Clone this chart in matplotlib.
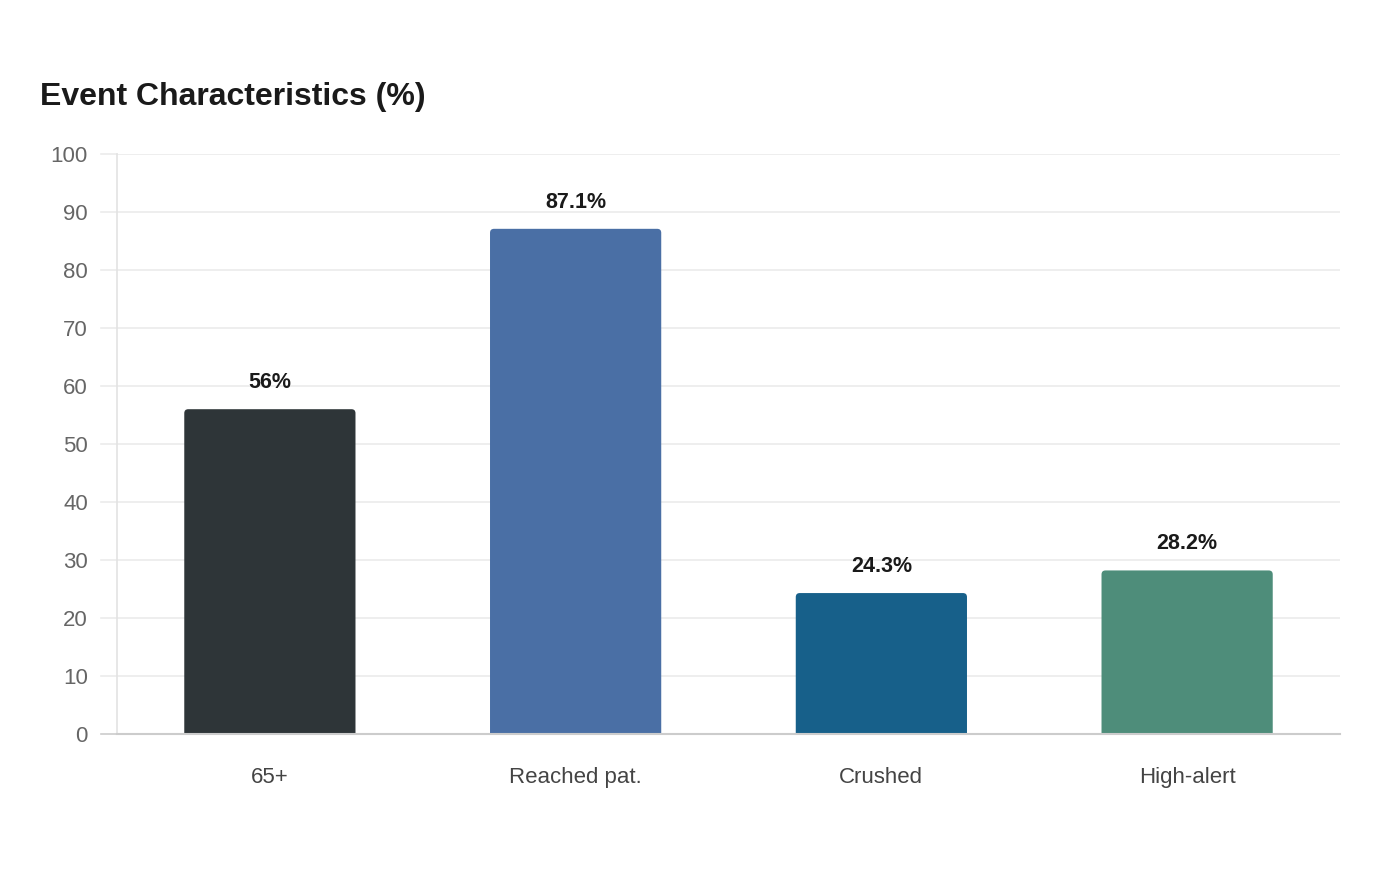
import matplotlib.pyplot as plt
from matplotlib.patches import FancyBboxPatch

plt.rcParams['font.family'] = ['Liberation Sans', 'DejaVu Sans']

categories = ['65+', 'Reached pat.', 'Crushed', 'High-alert']
values = [56, 87.1, 24.3, 28.2]
labels = ['56%', '87.1%', '24.3%', '28.2%']
colors = ['#2E3538', '#4A6FA5', '#17608A', '#4E8D7A']
yticks = [0, 10, 20, 30, 40, 50, 60, 70, 80, 90, 100]

fig = plt.figure(figsize=(14, 8.8), dpi=100)
ax = fig.add_axes([117 / 1400, 146 / 880, 1223 / 1400, 580 / 880])

width = 0.56
ax.set_xlim(-0.5, len(categories) - 0.5)
ax.set_ylim(0, 100)

# rounded tops: radius ~4px, scaled for the axes aspect
px_x = (len(categories)) / 1223
px_y = 100 / 580
r = 4 * px_x
for i, (v, c) in enumerate(zip(values, colors)):
    patch = FancyBboxPatch((i - width / 2, -2), width, v + 2,
                           boxstyle=f"round,pad=0,rounding_size={r}",
                           mutation_aspect=px_y / px_x,
                           facecolor=c, edgecolor='none', zorder=3)
    ax.add_patch(patch)
    ax.text(i, v + 2.8, labels[i], ha='center', va='bottom',
            fontsize=15.5, fontweight='bold', color='#1a1a1a')

ax.set_xticks(range(len(categories)))
ax.set_xticklabels(categories, fontsize=16, color='#444444')
ax.set_yticks(yticks)
ax.set_yticklabels([str(t) for t in yticks], fontsize=16, color='#666666')
ax.tick_params(axis='x', length=0, pad=24)
ax.tick_params(axis='y', length=0, pad=21)

ax.grid(axis='y', color='#EBEBEB', linewidth=1.2, zorder=0)
ax.set_axisbelow(True)
for s in ['top', 'right']:
    ax.spines[s].set_visible(False)
ax.spines['left'].set_color('#E3E3E3')
ax.spines['left'].set_linewidth(1.2)
ax.spines['bottom'].set_color('#CCCCCC')
ax.spines['bottom'].set_linewidth(1.5)
ax.spines['bottom'].set_zorder(4)

# gridlines extend a bit to the left of the axis
for t in yticks:
    ax.plot([-0.5 - 16 * px_x, -0.5], [t, t], color='#EBEBEB' if t else '#CCCCCC',
            lw=1.2, clip_on=False, zorder=0)

fig.text(40 / 1400, 1 - 97 / 880, 'Event Characteristics (%)', fontsize=23,
         fontweight='bold', color='#1a1a1a', va='center', ha='left')

fig.savefig('out.png', dpi=100, facecolor='white')
